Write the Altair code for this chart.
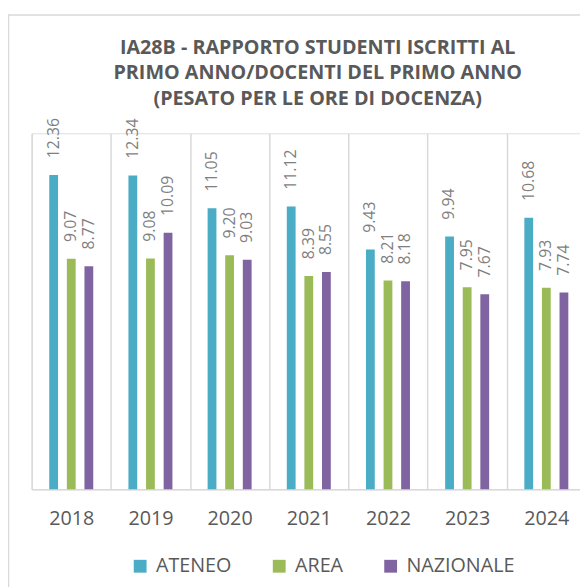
import altair as alt
import pandas as pd

years = ["2018", "2019", "2020", "2021", "2022", "2023", "2024"]
ateneo = [12.36, 12.34, 11.05, 11.12, 9.43, 9.94, 10.68]
area = [9.07, 9.08, 9.20, 8.39, 8.21, 7.95, 7.93]
nazionale = [8.77, 10.09, 9.03, 8.55, 8.18, 7.67, 7.74]
series = ["ATENEO", "AREA", "NAZIONALE"]
colors = ["#4BACC6", "#9BBB59", "#8064A2"]
title_lines = [
    "IA28B - RAPPORTO STUDENTI ISCRITTI AL",
    "PRIMO ANNO/DOCENTI DEL PRIMO ANNO",
    "(PESATO PER LE ORE DI DOCENZA)",
]

rows = []
for i, yr in enumerate(years):
    for s, vals in zip(series, [ateneo, area, nazionale]):
        rows.append({"anno": yr, "serie": s, "valore": vals[i]})
df = pd.DataFrame(rows)

PLOT_W = 556
BAND_RANGE = 562
PLOT_H = 361

base = alt.Chart(df).encode(
    x=alt.X(
        "anno:N",
        sort=years,
        title=None,
        scale=alt.Scale(paddingInner=0, paddingOuter=0, range=[0, BAND_RANGE]),
        axis=alt.Axis(
            labelAngle=0,
            labelFont="Open Sans",
            labelFontSize=20,
            labelColor="#595959",
            labelBaseline="top",
            ticks=False,
            tickSize=0,
            labelPadding=20,
            domainColor="#d9d9d9",
            domainWidth=1.5,
            grid=True,
            gridColor="#d9d9d9",
            gridWidth=1.5,
            tickBand="extent",
        ),
    ),
    xOffset=alt.XOffset(
        "serie:N", sort=series, scale=alt.Scale(paddingInner=0.5, paddingOuter=1)
    ),
    y=alt.Y("valore:Q", scale=alt.Scale(domain=[0, 14]), axis=None),
)

bars = base.mark_bar().encode(
    color=alt.Color(
        "serie:N",
        sort=series,
        scale=alt.Scale(domain=series, range=colors),
        legend=alt.Legend(
            title=None,
            orient="none",
            legendX=100,
            legendY=429,
            padding=0,
            direction="horizontal",
            symbolType="square",
            symbolSize=169,
            symbolStrokeWidth=0,
            symbolOpacity=1,
            labelFont="Open Sans",
            labelFontSize=20,
            labelColor="#595959",
            labelOffset=6,
            columnPadding=38,
        ),
    )
)

labels = base.mark_text(
    angle=270,
    align="left",
    baseline="middle",
    dx=17,
    font="Open Sans",
    fontSize=16,
    color="#7f7f7f",
).encode(text=alt.Text("valore:Q", format=".2f"))

frame_df = pd.DataFrame({"k": [0]})
top_line = alt.Chart(frame_df).mark_rule(color="#d9d9d9", strokeWidth=1.5).encode(
    x=alt.value(-24), x2=alt.value(PLOT_W), y=alt.value(-120)
)
left_line = alt.Chart(frame_df).mark_rule(color="#d9d9d9", strokeWidth=1.5).encode(
    x=alt.value(-23.5), y=alt.value(-120), y2=alt.value(PLOT_H + 100)
)

chart = (
    alt.layer(top_line, left_line, bars, labels)
    .properties(
        width=PLOT_W,
        height=PLOT_H,
        padding={"left": 24, "top": 123, "right": 0, "bottom": 95},
        autosize=alt.AutoSizeParams(type="none"),
        title=alt.TitleParams(
            title_lines,
            font="Open Sans",
            fontSize=20,
            fontWeight="bold",
            color="#595959",
            anchor="middle",
            frame="group",
            baseline="bottom",
            lineHeight=26,
            offset=0,
            dy=116,
            dx=12,
        ),
    )
    .configure_view(stroke=None)
    .configure(background="white")
)

chart.save("out.html", embed_options={"renderer": "svg", "actions": False})
